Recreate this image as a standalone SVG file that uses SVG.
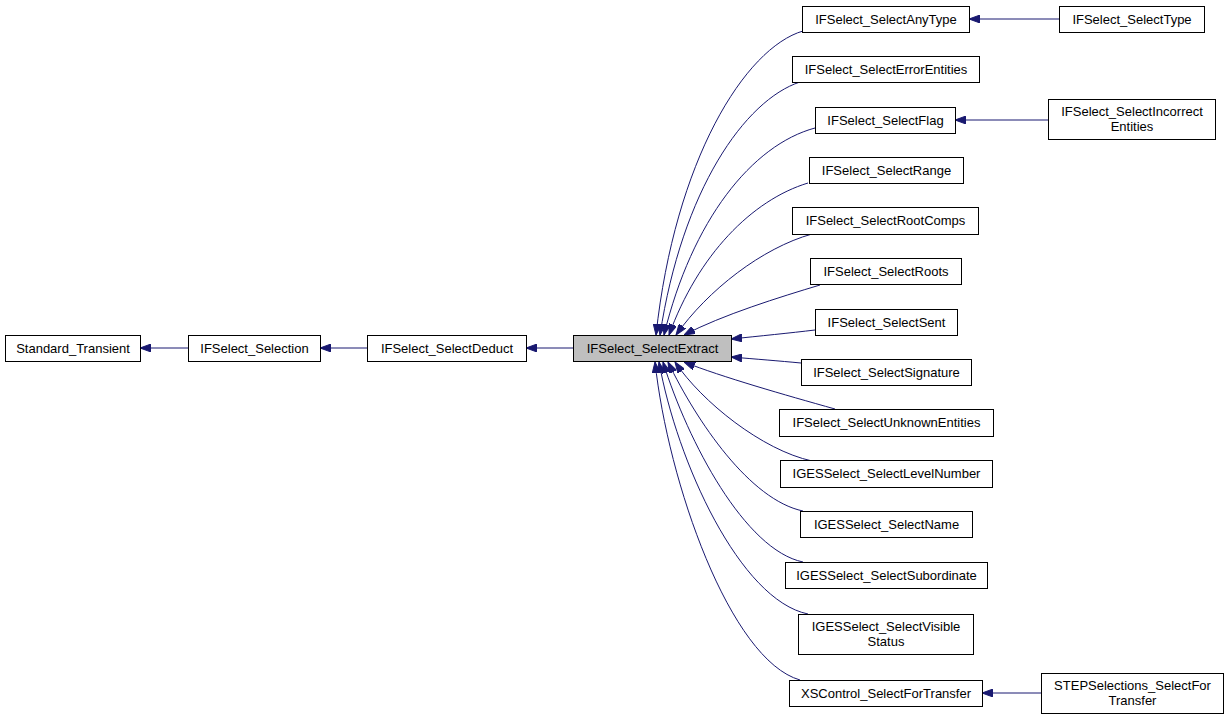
<svg xmlns="http://www.w3.org/2000/svg" width="1228" height="719" viewBox="0 0 1228 719">
<defs>
<style>
.n rect{fill:#fff;stroke:#000;stroke-width:1}
.n text{font-family:"Liberation Sans",Arial,sans-serif;font-size:13px;fill:#000;text-anchor:middle}
.e path{fill:none;stroke:#191970;stroke-width:1;marker-end:url(#ah)}
</style>
<marker id="ah" viewBox="0 0 11 8" refX="11" refY="4" markerWidth="11" markerHeight="8" markerUnits="userSpaceOnUse" orient="auto">
<path d="M0,0 L11,4 L0,8 z" fill="#191970" stroke="#191970" stroke-width="1"/>
</marker>
</defs>
<rect width="1228" height="719" fill="#fff"/>
<g id="edges" class="e">
<path d="M188,348 L140,348"/>
<path d="M367,348 L320,348"/>
<path d="M573,348 L526,348"/>
<path d="M1059,19 L969,19"/>
<path d="M1048,120 L955,120"/>
<path d="M1041,693 L982,693"/>
<path d="M803,31 C745,48 675,160 656,335"/>
<path d="M800,82 C745,100 682,190 660,335"/>
<path d="M815,128 C752,145 692,220 664,335"/>
<path d="M808,183 C752,200 698,255 669,335"/>
<path d="M812,234 C762,248 708,290 676,335"/>
<path d="M820,285 C780,297 722,315 684,335"/>
<path d="M815,330 C790,333 760,336 731,339"/>
<path d="M801,363 C780,361 755,359 731,357"/>
<path d="M835,409 C785,395 722,377 684,362"/>
<path d="M812,461 C762,450 702,402 675,362"/>
<path d="M803,511 C750,500 697,422 668,362"/>
<path d="M803,562 C745,550 688,442 663,362"/>
<path d="M808,614 C740,600 677,462 659,362"/>
<path d="M800,680 C730,660 668,482 655,362"/>
</g>
<g id="n_transient" class="n"><rect x="5.5" y="335.5" width="135" height="26"/><text x="73" y="352.5">Standard_Transient</text></g>
<g id="n_selection" class="n"><rect x="188.5" y="335.5" width="132" height="26"/><text x="254.5" y="352.5">IFSelect_Selection</text></g>
<g id="n_deduct" class="n"><rect x="367.5" y="335.5" width="159" height="26"/><text x="447" y="352.5">IFSelect_SelectDeduct</text></g>
<g id="n_extract" class="n"><rect x="573.5" y="335.5" width="158" height="26" style="fill:#bfbfbf"/><text x="652.5" y="352.5">IFSelect_SelectExtract</text></g>
<g id="n_anytype" class="n"><rect x="802.5" y="6.5" width="167" height="26"/><text x="886" y="23.5">IFSelect_SelectAnyType</text></g>
<g id="n_type" class="n"><rect x="1059.5" y="6.5" width="145" height="26"/><text x="1132" y="23.5">IFSelect_SelectType</text></g>
<g id="n_error" class="n"><rect x="792.5" y="56.5" width="187" height="26"/><text x="886" y="73.5">IFSelect_SelectErrorEntities</text></g>
<g id="n_flag" class="n"><rect x="815.5" y="107.5" width="140" height="26"/><text x="885.5" y="124.5">IFSelect_SelectFlag</text></g>
<g id="n_incorrect" class="n"><rect x="1048.5" y="99.5" width="167" height="40"/><text x="1132" y="115.5">IFSelect_SelectIncorrect</text><text x="1132" y="130.5">Entities</text></g>
<g id="n_range" class="n"><rect x="809.5" y="157.5" width="154" height="26"/><text x="886.5" y="174.5">IFSelect_SelectRange</text></g>
<g id="n_rootcomps" class="n"><rect x="792.5" y="207.5" width="186" height="27"/><text x="885.5" y="225">IFSelect_SelectRootComps</text></g>
<g id="n_roots" class="n"><rect x="810.5" y="258.5" width="151" height="26"/><text x="886" y="275.5">IFSelect_SelectRoots</text></g>
<g id="n_sent" class="n"><rect x="815.5" y="309.5" width="142" height="26"/><text x="886.5" y="326.5">IFSelect_SelectSent</text></g>
<g id="n_signature" class="n"><rect x="801.5" y="359.5" width="170" height="26"/><text x="886.5" y="376.5">IFSelect_SelectSignature</text></g>
<g id="n_unknown" class="n"><rect x="779.5" y="409.5" width="214" height="27"/><text x="886.5" y="427">IFSelect_SelectUnknownEntities</text></g>
<g id="n_level" class="n"><rect x="780.5" y="460.5" width="212" height="27"/><text x="886.5" y="478">IGESSelect_SelectLevelNumber</text></g>
<g id="n_name" class="n"><rect x="800.5" y="511.5" width="172" height="26"/><text x="886.5" y="528.5">IGESSelect_SelectName</text></g>
<g id="n_subord" class="n"><rect x="785.5" y="562.5" width="202" height="26"/><text x="886.5" y="579.5">IGESSelect_SelectSubordinate</text></g>
<g id="n_visible" class="n"><rect x="798.5" y="614.5" width="175" height="40"/><text x="886" y="630.5">IGESSelect_SelectVisible</text><text x="886" y="645.5">Status</text></g>
<g id="n_xscontrol" class="n"><rect x="789.5" y="680.5" width="193" height="26"/><text x="886" y="697.5">XSControl_SelectForTransfer</text></g>
<g id="n_step" class="n"><rect x="1041.5" y="673.5" width="182" height="40"/><text x="1132.5" y="689.5">STEPSelections_SelectFor</text><text x="1132.5" y="704.5">Transfer</text></g>
</svg>
